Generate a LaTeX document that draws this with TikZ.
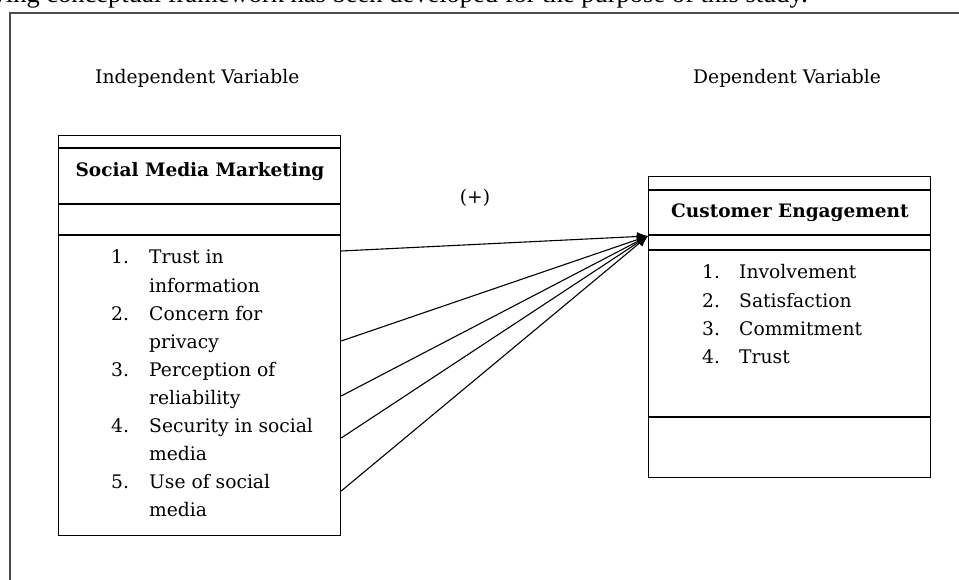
\documentclass[tikz,border=0pt]{standalone}
\usepackage{fontspec}
\setmainfont{DejaVu Serif}
\newfontfamily\doctext{Liberation Serif}
\usepackage{tikz}
\usetikzlibrary{arrows.meta, calc}

\begin{document}
\begin{tikzpicture}[x=1pt, y=-1pt,
    box/.style={draw, line width=1.2pt, minimum width=282pt, anchor=north west, inner sep=0pt},
    txt/.style={inner sep=0pt, font=\fontsize{18.7}{28}\selectfont},
    head/.style={txt, font=\fontsize{18.5}{28}\selectfont\bfseries},
    arr/.style={line width=1.1pt, -{Latex[length=11pt, width=9pt]}}]
        \useasboundingbox (0, 0) rectangle (959, 580);
        % cut off sentence above the figure
        \node[inner sep=0pt, anchor=base east, font=\doctext\fontsize{26.5}{30}\selectfont] (intro) at (808, 3)
            {wing conceptual framework has been developed for the purpose of this study.};
        \draw[line width=2pt, color=black!70] (10, 600) -- (10, 13) -- (980, 13);

        \node[txt, anchor=base west] (ivar) at (95, 84) {Independent Variable};
        \node[txt, anchor=base west] (dvar) at (693, 84) {Dependent Variable};

        % left box
        \node[box, minimum height=400pt] (smm) at (58, 135) {};
        \draw[line width=1.2pt] (smm.west |- 0,148) -- (smm.east |- 0,148);
        \draw[line width=1.2pt] (smm.west |- 0,204) -- (smm.east |- 0,204);
        \draw[line width=1.2pt] (smm.west |- 0,235) -- (smm.east |- 0,235);
        \node[head, anchor=base] (smmt) at (200, 177) {Social Media Marketing};
        \foreach \n/\a/\b [count=\i from 0] in {1/Trust in/information, 2/Concern for/privacy,
            3/Perception of/reliability, 4/Security in social/media, 5/Use of social/media} {
            \node[txt, anchor=base west] (smmn\n) at (111, {264+56*\i}) {\n.};
            \node[txt, anchor=base west] (smma\n) at (149, {264+56*\i}) {\a};
            \node[txt, anchor=base west] (smmb\n) at (149, {292+56*\i}) {\b};
        }

        % right box
        \node[box, minimum height=301pt] (ce) at (648, 176) {};
        \draw[line width=1.2pt] (ce.west |- 0,190) -- (ce.east |- 0,190);
        \draw[line width=1.2pt] (ce.west |- 0,235) -- (ce.east |- 0,235);
        \draw[line width=1.2pt] (ce.west |- 0,250) -- (ce.east |- 0,250);
        \draw[line width=1.2pt] (ce.west |- 0,417) -- (ce.east |- 0,417);
        \node[head, anchor=base] (cet) at (790, 218) {Customer Engagement};
        \foreach \n/\a [count=\i from 0] in {1/Involvement, 2/Satisfaction, 3/Commitment, 4/Trust} {
            \node[txt, anchor=base west] (cen\n) at (702, {279+28*\i}) {\n.};
            \node[txt, anchor=base west] (cea\n) at (739, {279+28*\i}) {\a};
        }

        % links
        \coordinate (tgt) at ($(ce.north west)+(0, 60)$);
        \foreach \y in {251, 341, 396, 438, 491}
            \draw[arr] (smm.east |- 0,\y) -- (tgt);
        \node[txt] (sign) at (475, 198) {(+)};
\end{tikzpicture}
\end{document}
